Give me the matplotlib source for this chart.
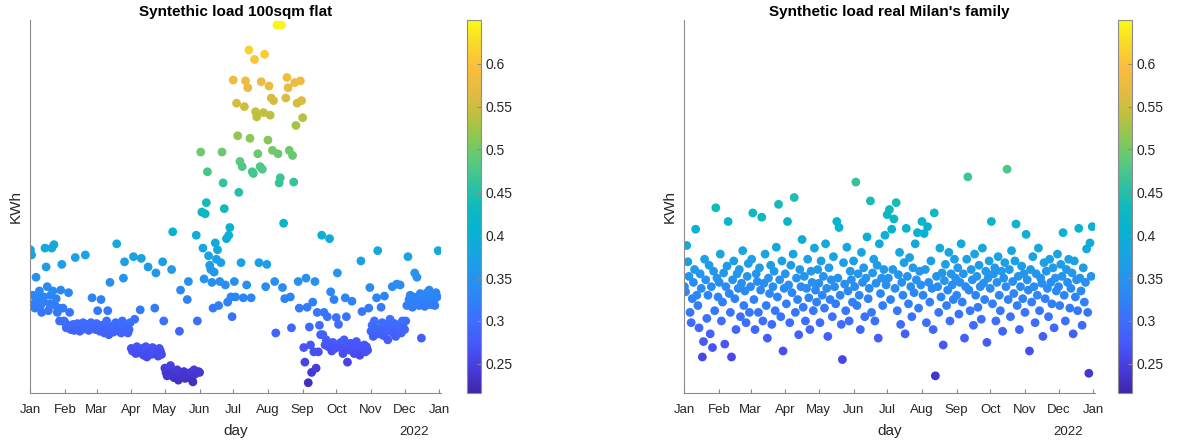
import matplotlib
matplotlib.use("Agg")
import matplotlib.pyplot as plt
import matplotlib.dates as mdates
import matplotlib.colors as mcolors
import numpy as np
import pandas as pd

plt.rcParams['font.family'] = ['Liberation Sans', 'DejaVu Sans']

days = pd.date_range("2021-01-01", "2021-12-31", freq="D")

# daily consumption, one line per month (Jan..Dec)
flat_kwh = [
    0.383, 0.377, 0.33, 0.32, 0.315, 0.351, 0.325, 0.33, 0.335, 0.318, 0.31, 0.322, 0.328, 0.385, 0.363, 0.34, 0.312, 0.32, 0.33, 0.385, 0.335, 0.389, 0.318, 0.326, 0.31, 0.315, 0.30, 0.336, 0.366, 0.315, 0.30,
    0.298, 0.292, 0.295, 0.333, 0.31, 0.29, 0.293, 0.296, 0.289, 0.374, 0.294, 0.297, 0.291, 0.288, 0.295, 0.29, 0.298, 0.293, 0.377, 0.296, 0.291, 0.289, 0.294, 0.298, 0.327, 0.292, 0.295, 0.29,
    0.297, 0.312, 0.29, 0.288, 0.325, 0.295, 0.292, 0.286, 0.289, 0.3, 0.312, 0.284, 0.345, 0.293, 0.29, 0.287, 0.295, 0.298, 0.39, 0.291, 0.288, 0.296, 0.286, 0.3, 0.35, 0.369, 0.289, 0.293, 0.286, 0.29, 0.298,
    0.268, 0.265, 0.375, 0.302, 0.262, 0.27, 0.266, 0.263, 0.313, 0.373, 0.268, 0.26, 0.265, 0.27, 0.258, 0.363, 0.267, 0.264, 0.261, 0.269, 0.266, 0.315, 0.356, 0.262, 0.259, 0.268, 0.265, 0.261, 0.369, 0.30,
    0.245, 0.24, 0.236, 0.242, 0.238, 0.248, 0.36, 0.404, 0.234, 0.24, 0.237, 0.243, 0.231, 0.288, 0.336, 0.239, 0.235, 0.241, 0.233, 0.238, 0.325, 0.346, 0.236, 0.24, 0.232, 0.229, 0.243, 0.238, 0.40, 0.30, 0.241,
    0.24, 0.497, 0.427, 0.385, 0.349, 0.425, 0.438, 0.474, 0.376, 0.365, 0.36, 0.345, 0.315, 0.357, 0.391, 0.372, 0.383, 0.318, 0.346, 0.368, 0.497, 0.461, 0.431, 0.342, 0.396, 0.322, 0.4, 0.409, 0.328, 0.305,
    0.581, 0.346, 0.328, 0.554, 0.516, 0.45, 0.486, 0.368, 0.48, 0.327, 0.55, 0.58, 0.342, 0.572, 0.616, 0.513, 0.327, 0.474, 0.472, 0.605, 0.544, 0.538, 0.495, 0.368, 0.48, 0.579, 0.477, 0.543, 0.611, 0.34, 0.366,
    0.511, 0.574, 0.54, 0.56, 0.499, 0.557, 0.346, 0.286, 0.645, 0.495, 0.461, 0.467, 0.645, 0.339, 0.414, 0.326, 0.56, 0.584, 0.572, 0.499, 0.328, 0.292, 0.493, 0.462, 0.578, 0.528, 0.554, 0.346, 0.315, 0.58, 0.557,
    0.537, 0.269, 0.252, 0.35, 0.316, 0.228, 0.293, 0.272, 0.24, 0.322, 0.264, 0.346, 0.245, 0.31, 0.264, 0.295, 0.284, 0.40, 0.284, 0.31, 0.272, 0.278, 0.305, 0.27, 0.396, 0.334, 0.265, 0.275, 0.325, 0.268,
    0.304, 0.356, 0.296, 0.27, 0.275, 0.268, 0.262, 0.278, 0.327, 0.305, 0.252, 0.272, 0.266, 0.274, 0.323, 0.27, 0.262, 0.268, 0.276, 0.265, 0.271, 0.26, 0.37, 0.311, 0.268, 0.272, 0.264, 0.27, 0.266, 0.315, 0.339,
    0.288, 0.295, 0.282, 0.3, 0.292, 0.327, 0.382, 0.285, 0.29, 0.316, 0.298, 0.283, 0.329, 0.29, 0.295, 0.278, 0.288, 0.302, 0.293, 0.34, 0.286, 0.297, 0.282, 0.343, 0.29, 0.295, 0.342, 0.286, 0.3, 0.292,
    0.29, 0.3, 0.318, 0.375, 0.325, 0.33, 0.322, 0.316, 0.328, 0.356, 0.32, 0.351, 0.326, 0.318, 0.332, 0.28, 0.324, 0.329, 0.317, 0.321, 0.333, 0.327, 0.336, 0.319, 0.325, 0.33, 0.322, 0.318, 0.333, 0.328, 0.382,
]

milan_kwh = [
    0.34, 0.334, 0.388, 0.369, 0.352, 0.31, 0.298, 0.326, 0.345, 0.36, 0.407, 0.33, 0.318, 0.292, 0.355, 0.338, 0.258, 0.276, 0.372, 0.348, 0.303, 0.33, 0.365, 0.285, 0.34, 0.269, 0.358, 0.312, 0.432, 0.35, 0.328,
    0.345, 0.378, 0.3, 0.322, 0.356, 0.273, 0.34, 0.364, 0.416, 0.332, 0.31, 0.258, 0.348, 0.37, 0.326, 0.29, 0.355, 0.338, 0.36, 0.305, 0.344, 0.382, 0.318, 0.335, 0.298, 0.352, 0.367, 0.31,
    0.34, 0.372, 0.426, 0.325, 0.29, 0.355, 0.346, 0.31, 0.362, 0.336, 0.421, 0.3, 0.344, 0.378, 0.318, 0.28, 0.35, 0.332, 0.365, 0.296, 0.34, 0.358, 0.312, 0.386, 0.328, 0.436, 0.348, 0.305, 0.37, 0.265, 0.338,
    0.355, 0.32, 0.416, 0.342, 0.298, 0.365, 0.333, 0.378, 0.444, 0.31, 0.35, 0.325, 0.284, 0.36, 0.34, 0.395, 0.316, 0.352, 0.3, 0.338, 0.372, 0.327, 0.29, 0.358, 0.345, 0.312, 0.385, 0.336, 0.322, 0.36,
    0.344, 0.298, 0.37, 0.33, 0.352, 0.315, 0.39, 0.338, 0.282, 0.362, 0.325, 0.348, 0.305, 0.375, 0.34, 0.32, 0.416, 0.35, 0.409, 0.33, 0.296, 0.255, 0.368, 0.343, 0.312, 0.386, 0.335, 0.3, 0.358, 0.348, 0.322,
    0.37, 0.34, 0.462, 0.318, 0.355, 0.33, 0.29, 0.38, 0.345, 0.362, 0.305, 0.35, 0.398, 0.326, 0.338, 0.44, 0.31, 0.356, 0.372, 0.3, 0.344, 0.365, 0.28, 0.39, 0.332, 0.35, 0.318, 0.36, 0.4, 0.342,
    0.424, 0.35, 0.43, 0.325, 0.407, 0.36, 0.419, 0.338, 0.438, 0.312, 0.354, 0.38, 0.296, 0.345, 0.33, 0.368, 0.285, 0.408, 0.352, 0.32, 0.374, 0.34, 0.305, 0.362, 0.333, 0.39, 0.348, 0.403, 0.315, 0.358, 0.342,
    0.416, 0.33, 0.402, 0.36, 0.298, 0.41, 0.345, 0.322, 0.37, 0.338, 0.29, 0.426, 0.236, 0.352, 0.34, 0.31, 0.385, 0.328, 0.356, 0.272, 0.347, 0.366, 0.318, 0.336, 0.38, 0.3, 0.355, 0.342, 0.325, 0.372, 0.35,
    0.33, 0.362, 0.308, 0.345, 0.39, 0.322, 0.355, 0.28, 0.34, 0.372, 0.468, 0.336, 0.312, 0.36, 0.348, 0.295, 0.378, 0.33, 0.352, 0.316, 0.365, 0.34, 0.302, 0.385, 0.344, 0.325, 0.358, 0.275, 0.35, 0.37,
    0.338, 0.416, 0.32, 0.355, 0.362, 0.3, 0.345, 0.375, 0.33, 0.312, 0.358, 0.288, 0.35, 0.368, 0.34, 0.477, 0.325, 0.36, 0.305, 0.382, 0.346, 0.332, 0.37, 0.413, 0.318, 0.352, 0.29, 0.34, 0.364, 0.326, 0.355,
    0.31, 0.401, 0.348, 0.336, 0.265, 0.36, 0.322, 0.375, 0.34, 0.298, 0.355, 0.33, 0.385, 0.312, 0.35, 0.344, 0.282, 0.368, 0.326, 0.358, 0.338, 0.305, 0.372, 0.345, 0.32, 0.362, 0.292, 0.35, 0.335, 0.378,
    0.34, 0.318, 0.366, 0.352, 0.403, 0.33, 0.3, 0.36, 0.345, 0.372, 0.315, 0.338, 0.356, 0.285, 0.37, 0.328, 0.348, 0.312, 0.408, 0.35, 0.335, 0.295, 0.362, 0.322, 0.345, 0.384, 0.31, 0.239, 0.391, 0.352, 0.41,
]

titles = ["Syntethic load 100sqm flat", "Synthetic load real Milan's family"]
month_labels = ["Jan", "Feb", "Mar", "Apr", "May", "Jun", "Jul", "Aug", "Sep", "Oct", "Nov", "Dec", "Jan"]
cbar_ticks = [0.25, 0.3, 0.35, 0.4, 0.45, 0.5, 0.55, 0.6]
clim = (0.216, 0.651)

assert len(flat_kwh) == len(days) and len(milan_kwh) == len(days)

# rough parula (MATLAB default colormap)
parula_pts = [
    (0.00, (0.2422, 0.1504, 0.6603)),
    (0.06, (0.2740, 0.2280, 0.8500)),
    (0.125, (0.2780, 0.3360, 0.9770)),
    (0.19, (0.2400, 0.4300, 0.9950)),
    (0.25, (0.1800, 0.5100, 0.9700)),
    (0.31, (0.1500, 0.5800, 0.9300)),
    (0.375, (0.0900, 0.6500, 0.8800)),
    (0.44, (0.0300, 0.7000, 0.8200)),
    (0.50, (0.0600, 0.7300, 0.7400)),
    (0.56, (0.2000, 0.7600, 0.6200)),
    (0.625, (0.3600, 0.7900, 0.4800)),
    (0.69, (0.5600, 0.7800, 0.3200)),
    (0.75, (0.7600, 0.7500, 0.2500)),
    (0.81, (0.9000, 0.7300, 0.2600)),
    (0.875, (0.9900, 0.7400, 0.2400)),
    (0.94, (0.9800, 0.8500, 0.1600)),
    (1.00, (0.9769, 0.9839, 0.0805)),
]
parula = mcolors.LinearSegmentedColormap.from_list("parula", parula_pts)

fig = plt.figure(figsize=(11.83, 4.43), dpi=100)
W, H = 1183, 443
axes_px = [(30, 441), (684, 1095)]
cbar_px = [(467, 481), (1118, 1132)]
top, bottom = 20, 393

month_ticks = pd.date_range("2021-01-01", "2022-01-01", freq="MS")
axis_col = "#8c8c8c"
text_col = "#262626"

for i, vals in enumerate([flat_kwh, milan_kwh]):
    x0, x1 = axes_px[i]
    ax = fig.add_axes([x0 / W, (H - bottom) / H, (x1 - x0) / W, (bottom - top) / H])
    sc = ax.scatter(days, vals, c=vals, cmap=parula, vmin=clim[0], vmax=clim[1],
                    s=40, edgecolors="none")
    ax.set_xlim(mdates.date2num(pd.Timestamp("2021-01-01")) - 0.4,
                mdates.date2num(pd.Timestamp("2022-01-01")) + 1.5)
    ax.set_ylim(*clim)
    ax.set_xticks(month_ticks)
    ax.set_xticklabels(month_labels, fontsize=9.5, color=text_col)
    ax.set_yticks([])
    ax.tick_params(axis="x", direction="in", length=3, color=axis_col, pad=8)
    for side in ["top", "right"]:
        ax.spines[side].set_visible(False)
    for side in ["left", "bottom"]:
        ax.spines[side].set_color(axis_col)
        ax.spines[side].set_linewidth(0.8)
    ax.set_title(titles[i], fontsize=11, fontweight="bold", color="black", pad=3)
    ax.set_xlabel("day", fontsize=11, color=text_col, labelpad=6)
    ax.set_ylabel("KWh", fontsize=11, color=text_col, labelpad=5)
    ax.text(0.935, -0.105, "2022", transform=ax.transAxes, ha="center", va="center",
            fontsize=9.5, color=text_col)

    c0, c1 = cbar_px[i]
    cax = fig.add_axes([c0 / W, (H - bottom) / H, (c1 - c0) / W, (bottom - top) / H])
    cb = fig.colorbar(sc, cax=cax, ticks=cbar_ticks)
    cb.ax.set_yticklabels([f"{t:g}" for t in cbar_ticks], fontsize=10, color=text_col)
    cb.ax.tick_params(direction="in", length=3, color=axis_col)
    cb.outline.set_edgecolor(axis_col)
    cb.outline.set_linewidth(0.8)

fig.savefig("out.png", dpi=100)
